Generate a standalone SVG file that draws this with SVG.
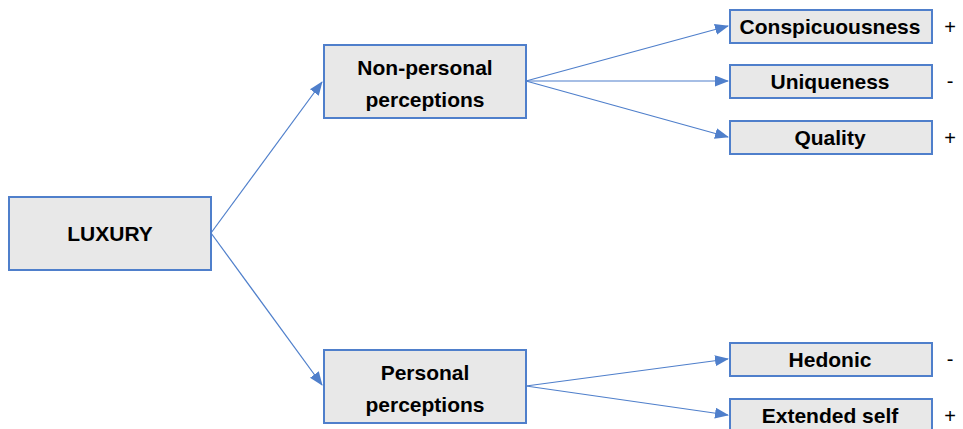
<svg xmlns="http://www.w3.org/2000/svg" width="963" height="429" viewBox="0 0 963 429">
<style>
.box{fill:#E8E8E8;stroke:#4F7FCB;stroke-width:2}
.t{font-family:"Liberation Sans",Arial,sans-serif;font-weight:bold;font-size:21px;fill:#000;text-anchor:middle}
.s{font-family:"Liberation Sans",Arial,sans-serif;font-size:20px;fill:#000;text-anchor:middle}
.c{stroke:#4F7FCB;stroke-width:1.2;fill:none;marker-end:url(#ah)}
</style>
<defs>
<marker id="ah" markerWidth="14" markerHeight="11" refX="13" refY="5.5" orient="auto" markerUnits="userSpaceOnUse">
<path d="M0,0 L14,5.5 L0,11 Z" fill="#4F7FCB"/>
</marker>
</defs>
<rect width="963" height="429" fill="#fff"/>
<g id="connectors">
<line class="c" x1="211" y1="233" x2="322" y2="82"/>
<line class="c" x1="211" y1="233" x2="322" y2="385"/>
<line class="c" x1="526" y1="81" x2="728" y2="26"/>
<line class="c" x1="526" y1="81" x2="728" y2="81"/>
<line class="c" x1="526" y1="81" x2="728" y2="137"/>
<line class="c" x1="526" y1="386" x2="728" y2="359"/>
<line class="c" x1="526" y1="386" x2="728" y2="415"/>
</g>
<g id="luxury"><rect class="box" x="9" y="197" width="202" height="73"/><text class="t" x="110" y="241">LUXURY</text></g>
<g id="nonpersonal"><rect class="box" x="324" y="45" width="202" height="73"/><text class="t" x="425" y="75">Non-personal</text><text class="t" x="425" y="107">perceptions</text></g>
<g id="personal"><rect class="box" x="324" y="350" width="202" height="73"/><text class="t" x="425" y="380">Personal</text><text class="t" x="425" y="412">perceptions</text></g>
<g id="conspicuousness"><rect class="box" x="730" y="10" width="202" height="33"/><text class="t" x="830" y="34">Conspicuousness</text><text class="s" x="950" y="34">+</text></g>
<g id="uniqueness"><rect class="box" x="730" y="65" width="202" height="33"/><text class="t" x="830" y="89">Uniqueness</text><text class="s" x="950" y="88">-</text></g>
<g id="quality"><rect class="box" x="730" y="121" width="202" height="33"/><text class="t" x="830" y="145">Quality</text><text class="s" x="950" y="145">+</text></g>
<g id="hedonic"><rect class="box" x="730" y="343" width="202" height="33"/><text class="t" x="830" y="367">Hedonic</text><text class="s" x="950" y="366">-</text></g>
<g id="extended"><rect class="box" x="730" y="399" width="202" height="33"/><text class="t" x="830" y="423">Extended self</text><text class="s" x="950" y="423">+</text></g>
</svg>
